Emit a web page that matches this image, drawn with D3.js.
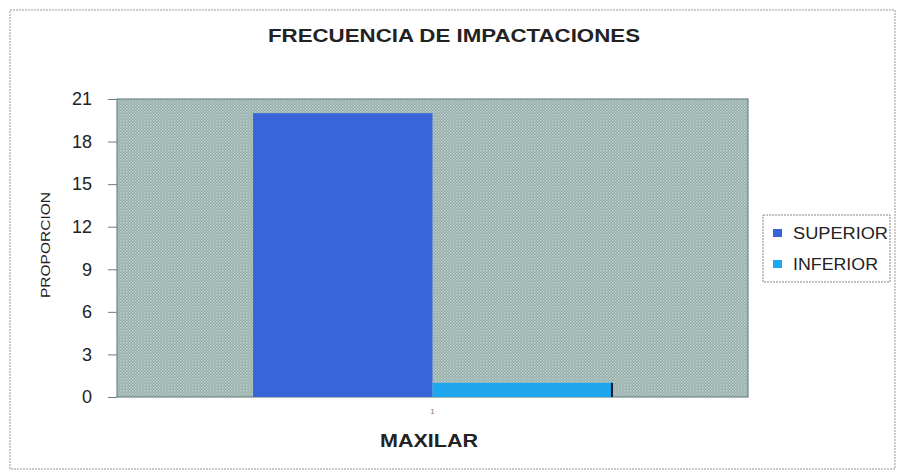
<!DOCTYPE html>
<html>
<head>
<meta charset="utf-8">
<script src="https://cdnjs.cloudflare.com/ajax/libs/d3/7.8.5/d3.min.js"></script>
<style>
  body { margin: 0; background: #fff; }
  svg { display: block; font-family: "Liberation Sans", Arial, sans-serif; }
</style>
</head>
<body>
<div id="chart"></div>
<script>
// chart data
const categories = ["1"];
const seriesNames = ["SUPERIOR", "INFERIOR"];
const superior = [20];
const inferior = [1];
const yTicks = [0, 3, 6, 9, 12, 15, 18, 21];
const colors = ["#3865d8", "#1ea6ee"];

const W = 897, H = 472;
const plot = { left: 117, right: 748, top: 99, bottom: 397 };

const svg = d3.select("#chart").append("svg")
  .attr("width", W)
  .attr("height", H);

// dotted pattern for the plot background
const defs = svg.append("defs");
const pat = defs.append("pattern")
  .attr("id", "dots")
  .attr("width", 3).attr("height", 3)
  .attr("patternUnits", "userSpaceOnUse");
pat.append("rect").attr("width", 3).attr("height", 3).attr("fill", "#91aaa7");
pat.append("rect").attr("x", 0).attr("y", 0).attr("width", 1.5).attr("height", 1.5).attr("fill", "#c3d5d2");
pat.append("rect").attr("x", 1.5).attr("y", 1.5).attr("width", 1.5).attr("height", 1.5).attr("fill", "#b2c6c3");

// outer chart border
svg.append("rect")
  .attr("x", 10).attr("y", 10)
  .attr("width", 885).attr("height", 459)
  .attr("fill", "none")
  .attr("stroke", "#999")
  .attr("stroke-width", 1)
  .attr("stroke-dasharray", "2,1");

// scales
const y = d3.scaleLinear().domain([0, 21]).range([plot.bottom, plot.top]);
const x0 = d3.scaleBand().domain(categories).range([plot.left, plot.right]).paddingInner(0).paddingOuter(0.379);
const x1 = d3.scaleBand().domain(seriesNames).range([0, x0.bandwidth()]);

// plot area
svg.append("rect")
  .attr("x", plot.left).attr("y", plot.top)
  .attr("width", plot.right - plot.left)
  .attr("height", plot.bottom - plot.top)
  .attr("fill", "url(#dots)")
  .attr("stroke", "#6f8683")
  .attr("stroke-width", 1.2);

// bars
const rows = categories.map((c, i) => ({ cat: c, values: [superior[i], inferior[i]] }));
const groups = svg.selectAll("g.cat")
  .data(rows)
  .enter().append("g")
  .attr("class", "cat")
  .attr("transform", d => `translate(${x0(d.cat)},0)`);

groups.selectAll("rect")
  .data(d => d.values.map((v, j) => ({ name: seriesNames[j], v: v, j: j })))
  .enter().append("rect")
  .attr("x", d => x1(d.name))
  .attr("y", d => y(d.v))
  .attr("width", x1.bandwidth())
  .attr("height", d => y(0) - y(d.v))
  .attr("fill", d => colors[d.j]);

// small dark edge at the end of the last bar
groups.append("line")
  .attr("x1", x0.bandwidth()).attr("x2", x0.bandwidth())
  .attr("y1", d => y(d.values[1]))
  .attr("y2", y(0))
  .attr("stroke", "#1a1a2a")
  .attr("stroke-width", 2);

// y axis
const yAxis = d3.axisLeft(y).tickValues(yTicks).tickSize(9).tickPadding(16);
const gy = svg.append("g")
  .attr("transform", `translate(${plot.left},0)`)
  .call(yAxis);
gy.select(".domain").remove();
gy.selectAll(".tick line").attr("stroke", "#777");
gy.selectAll(".tick text")
  .attr("font-size", 18)
  .attr("fill", "#222")
  .style("font-family", "Liberation Sans, Arial, sans-serif");

// x axis (tiny category label)
const xAxis = d3.axisBottom(x0).tickSize(0).tickPadding(11);
const gx = svg.append("g")
  .attr("transform", `translate(0,${plot.bottom})`)
  .call(xAxis);
gx.select(".domain").remove();
gx.selectAll(".tick text")
  .attr("font-size", 8)
  .attr("fill", "#777");

// title
svg.append("text")
  .attr("x", 268).attr("y", 42)
  .attr("textLength", 372)
  .attr("lengthAdjust", "spacingAndGlyphs")
  .attr("font-size", 18)
  .attr("font-weight", "bold")
  .attr("fill", "#222")
  .text("FRECUENCIA DE IMPACTACIONES");

// axis titles
svg.append("text")
  .attr("x", 380).attr("y", 447)
  .attr("textLength", 98)
  .attr("lengthAdjust", "spacingAndGlyphs")
  .attr("font-size", 18)
  .attr("font-weight", "bold")
  .attr("fill", "#222")
  .text("MAXILAR");

svg.append("text")
  .attr("transform", "translate(50,298) rotate(-90)")
  .attr("textLength", 106)
  .attr("lengthAdjust", "spacingAndGlyphs")
  .attr("font-size", 13)
  .attr("fill", "#222")
  .text("PROPORCION");

// legend
const legendWidths = [95, 85];
const lg = svg.append("g").attr("transform", "translate(763,215)");
lg.append("rect")
  .attr("width", 127).attr("height", 67)
  .attr("fill", "#fff")
  .attr("stroke", "#888")
  .attr("stroke-dasharray", "2,1");
const items = lg.selectAll("g.item")
  .data(seriesNames)
  .enter().append("g")
  .attr("class", "item")
  .attr("transform", (d, i) => `translate(10,${18 + i * 31})`);
items.append("rect")
  .attr("x", 0).attr("y", -4)
  .attr("width", 9).attr("height", 8)
  .attr("fill", (d, i) => colors[i]);
items.append("text")
  .attr("x", 20).attr("y", 6)
  .attr("textLength", (d, i) => legendWidths[i])
  .attr("lengthAdjust", "spacingAndGlyphs")
  .attr("font-size", 16)
  .attr("fill", "#222")
  .text(d => d);
</script>
</body>
</html>
